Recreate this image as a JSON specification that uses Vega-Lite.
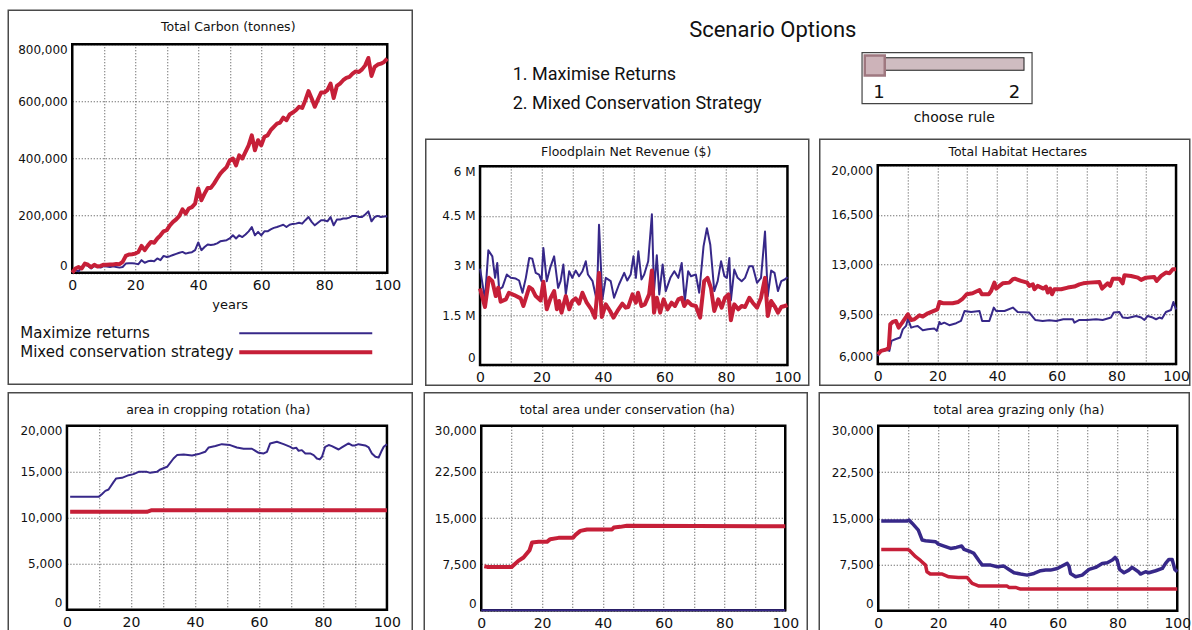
{
"$schema": "https://vega.github.io/schema/vega-lite/v6.json",
"padding": {"left": 7.25, "top": 9.25, "right": 0, "bottom": 0},
"background": "white",
"spacing": 5.5,
"datasets": {
"carbon": [
{"t":0,"R":0,"M":0},{"t":1,"R":9000,"M":15000},{"t":2,"R":5000,"M":20000},{"t":3,"R":20000,"M":15000},{"t":4,"R":29000,"M":32000},{"t":5,"R":24000,"M":28000},{"t":6,"R":15000,"M":20000},{"t":7,"R":24000,"M":28000},{"t":8,"R":20000,"M":22000},{"t":9,"R":18000,"M":24000},
{"t":10,"R":23000,"M":28000},{"t":11,"R":22000,"M":28000},{"t":12,"R":20000,"M":29000},{"t":13,"R":23000,"M":29000},{"t":14,"R":20000,"M":31000},{"t":15,"R":18000,"M":30000},{"t":16,"R":20000,"M":38000},{"t":17,"R":32000,"M":59000},{"t":18,"R":33000,"M":64000},{"t":19,"R":33000,"M":65000},
{"t":20,"R":32000,"M":67000},{"t":21,"R":30000,"M":73000},{"t":22,"R":44000,"M":94000},{"t":23,"R":35000,"M":79000},{"t":24,"R":40000,"M":95000},{"t":25,"R":42000,"M":108000},{"t":26,"R":40000,"M":105000},{"t":27,"R":50000,"M":120000},{"t":28,"R":44000,"M":131000},{"t":29,"R":59000,"M":145000},
{"t":30,"R":55000,"M":149000},{"t":31,"R":58000,"M":166000},{"t":32,"R":62000,"M":178000},{"t":33,"R":66000,"M":187000},{"t":34,"R":70000,"M":199000},{"t":35,"R":73000,"M":222000},{"t":36,"R":67000,"M":207000},{"t":37,"R":70000,"M":225000},{"t":38,"R":72000,"M":230000},{"t":39,"R":79000,"M":242000},
{"t":40,"R":106000,"M":295000},{"t":41,"R":79000,"M":254000},{"t":42,"R":90000,"M":277000},{"t":43,"R":99000,"M":297000},{"t":44,"R":97000,"M":297000},{"t":45,"R":99000,"M":312000},{"t":46,"R":103000,"M":330000},{"t":47,"R":110000,"M":347000},{"t":48,"R":112000,"M":359000},{"t":49,"R":114000,"M":370000},
{"t":50,"R":120000,"M":394000},{"t":51,"R":131000,"M":400000},{"t":52,"R":120000,"M":376000},{"t":53,"R":131000,"M":411000},{"t":54,"R":125000,"M":400000},{"t":55,"R":134000,"M":423000},{"t":56,"R":145000,"M":446000},{"t":57,"R":160000,"M":481000},{"t":58,"R":131000,"M":429000},{"t":59,"R":143000,"M":464000},
{"t":60,"R":131000,"M":446000},{"t":61,"R":145000,"M":476000},{"t":62,"R":145000,"M":481000},{"t":63,"R":152000,"M":499000},{"t":64,"R":157000,"M":511000},{"t":65,"R":160000,"M":522000},{"t":66,"R":164000,"M":526000},{"t":67,"R":168000,"M":543000},{"t":68,"R":160000,"M":534000},{"t":69,"R":168000,"M":554000},
{"t":70,"R":171000,"M":561000},{"t":71,"R":172000,"M":569000},{"t":72,"R":175000,"M":581000},{"t":73,"R":172000,"M":577000},{"t":74,"R":184000,"M":604000},{"t":75,"R":195000,"M":636000},{"t":76,"R":178000,"M":610000},{"t":77,"R":166000,"M":581000},{"t":78,"R":175000,"M":607000},{"t":79,"R":184000,"M":631000},
{"t":80,"R":184000,"M":631000},{"t":81,"R":180000,"M":639000},{"t":82,"R":195000,"M":662000},{"t":83,"R":166000,"M":612000},{"t":84,"R":186000,"M":654000},{"t":85,"R":186000,"M":662000},{"t":86,"R":190000,"M":674000},{"t":87,"R":190000,"M":682000},{"t":88,"R":193000,"M":686000},{"t":89,"R":199000,"M":697000},
{"t":90,"R":199000,"M":705000},{"t":91,"R":195000,"M":703000},{"t":92,"R":195000,"M":712000},{"t":93,"R":204000,"M":726000},{"t":94,"R":215000,"M":752000},{"t":95,"R":180000,"M":689000},{"t":96,"R":195000,"M":721000},{"t":97,"R":199000,"M":729000},{"t":98,"R":195000,"M":732000},{"t":99,"R":197000,"M":738000},
{"t":100,"R":198000,"M":750000}
],
"flood": [
{"s":"R","t":0,"v":2.91},{"s":"R","t":1.6,"v":1.98},{"s":"R","t":2.7,"v":3.46},{"s":"R","t":4.0,"v":3.28},{"s":"R","t":4.9,"v":2.63},{"s":"R","t":5.6,"v":3.08},{"s":"R","t":6.2,"v":2.28},{"s":"R","t":7.3,"v":2.35},{"s":"R","t":8.7,"v":2.73},{"s":"R","t":10,"v":2.63},
{"s":"R","t":11.6,"v":2.61},{"s":"R","t":12.7,"v":2.55},{"s":"R","t":13.8,"v":2.18},{"s":"R","t":14.9,"v":2.63},{"s":"R","t":16,"v":3.23},{"s":"R","t":17,"v":3.21},{"s":"R","t":18.1,"v":2.78},{"s":"R","t":19.2,"v":2.73},{"s":"R","t":20,"v":2.53},{"s":"R","t":20.6,"v":3.53},
{"s":"R","t":21.7,"v":2.53},{"s":"R","t":22.8,"v":2.93},{"s":"R","t":24.1,"v":3.28},{"s":"R","t":25.4,"v":2.33},{"s":"R","t":26.2,"v":2.53},{"s":"R","t":27.1,"v":3.03},{"s":"R","t":27.9,"v":2.13},{"s":"R","t":29,"v":2.83},{"s":"R","t":30,"v":2.63},{"s":"R","t":31.1,"v":2.85},
{"s":"R","t":32.2,"v":2.68},{"s":"R","t":33.3,"v":2.83},{"s":"R","t":34.4,"v":3.13},{"s":"R","t":35.1,"v":2.73},{"s":"R","t":36.6,"v":2.53},{"s":"R","t":38,"v":1.93},{"s":"R","t":38.7,"v":4.23},{"s":"R","t":39.8,"v":1.98},{"s":"R","t":40.9,"v":2.63},{"s":"R","t":42.5,"v":2.53},
{"s":"R","t":43.6,"v":2.03},{"s":"R","t":45.2,"v":2.43},{"s":"R","t":46.9,"v":2.78},{"s":"R","t":47.9,"v":2.55},{"s":"R","t":49,"v":2.73},{"s":"R","t":49.9,"v":3.28},{"s":"R","t":50.7,"v":2.63},{"s":"R","t":51.5,"v":3.43},{"s":"R","t":52.5,"v":2.58},{"s":"R","t":53.4,"v":2.73},
{"s":"R","t":54.7,"v":3.13},{"s":"R","t":55.9,"v":4.55},{"s":"R","t":56.6,"v":2.23},{"s":"R","t":57.5,"v":3.31},{"s":"R","t":58.3,"v":2.13},{"s":"R","t":59.4,"v":3.03},{"s":"R","t":60.4,"v":2.23},{"s":"R","t":61.9,"v":2.63},{"s":"R","t":63.2,"v":2.83},{"s":"R","t":64.5,"v":2.63},
{"s":"R","t":65.6,"v":3.08},{"s":"R","t":66.6,"v":1.93},{"s":"R","t":67.7,"v":2.83},{"s":"R","t":68.6,"v":2.68},{"s":"R","t":70.2,"v":2.73},{"s":"R","t":71.3,"v":2.18},{"s":"R","t":72.7,"v":3.58},{"s":"R","t":73.8,"v":4.13},{"s":"R","t":74.9,"v":3.63},{"s":"R","t":76.2,"v":2.23},
{"s":"R","t":77.3,"v":2.53},{"s":"R","t":78.4,"v":3.13},{"s":"R","t":79.5,"v":2.68},{"s":"R","t":80.3,"v":2.63},{"s":"R","t":81.1,"v":3.23},{"s":"R","t":81.6,"v":1.95},{"s":"R","t":82.7,"v":2.88},{"s":"R","t":83.8,"v":2.63},{"s":"R","t":85.1,"v":2.53},{"s":"R","t":86.2,"v":2.63},
{"s":"R","t":87.6,"v":2.98},{"s":"R","t":88.7,"v":2.98},{"s":"R","t":90.1,"v":2.48},{"s":"R","t":91.4,"v":2.63},{"s":"R","t":92.7,"v":4.03},{"s":"R","t":93.6,"v":2.08},{"s":"R","t":94.7,"v":2.85},{"s":"R","t":95.8,"v":2.78},{"s":"R","t":96.9,"v":2.23},{"s":"R","t":98,"v":2.53},
{"s":"R","t":99.1,"v":2.58},{"s":"R","t":100,"v":2.65},
{"s":"M","t":0,"v":2.31},{"s":"M","t":1.6,"v":1.75},{"s":"M","t":2.9,"v":2.63},{"s":"M","t":4,"v":2.53},{"s":"M","t":5.1,"v":2.08},{"s":"M","t":5.9,"v":2.33},{"s":"M","t":6.7,"v":1.91},{"s":"M","t":8.4,"v":1.98},{"s":"M","t":9.4,"v":2.18},{"s":"M","t":11.1,"v":2.11},
{"s":"M","t":13.2,"v":2.01},{"s":"M","t":14.1,"v":1.78},{"s":"M","t":16,"v":2.35},{"s":"M","t":17,"v":2.28},{"s":"M","t":18.1,"v":2.08},{"s":"M","t":19.7,"v":1.95},{"s":"M","t":20.6,"v":2.51},{"s":"M","t":21.7,"v":1.68},{"s":"M","t":23,"v":2.03},{"s":"M","t":24.1,"v":2.23},
{"s":"M","t":25,"v":1.68},{"s":"M","t":25.7,"v":1.93},{"s":"M","t":26.5,"v":1.58},{"s":"M","t":27.9,"v":2.08},{"s":"M","t":29,"v":1.68},{"s":"M","t":30,"v":1.93},{"s":"M","t":31.1,"v":2.01},{"s":"M","t":32.2,"v":1.85},{"s":"M","t":33.3,"v":2.18},{"s":"M","t":34.7,"v":1.88},
{"s":"M","t":36.2,"v":1.68},{"s":"M","t":37.4,"v":1.43},{"s":"M","t":38.7,"v":2.78},{"s":"M","t":39.6,"v":1.45},{"s":"M","t":40.9,"v":1.83},{"s":"M","t":42.3,"v":1.63},{"s":"M","t":43.4,"v":1.43},{"s":"M","t":44.7,"v":1.63},{"s":"M","t":46.3,"v":1.85},{"s":"M","t":47.4,"v":1.73},
{"s":"M","t":48.2,"v":1.75},{"s":"M","t":49.6,"v":2.13},{"s":"M","t":50.7,"v":1.88},{"s":"M","t":51.4,"v":2.18},{"s":"M","t":52.5,"v":1.78},{"s":"M","t":53.6,"v":1.83},{"s":"M","t":55,"v":2.13},{"s":"M","t":55.9,"v":2.85},{"s":"M","t":56.6,"v":1.58},{"s":"M","t":57.5,"v":2.03},
{"s":"M","t":58.6,"v":1.58},{"s":"M","t":59.7,"v":1.98},{"s":"M","t":61,"v":1.68},{"s":"M","t":62.3,"v":1.88},{"s":"M","t":63.4,"v":1.78},{"s":"M","t":64.5,"v":1.98},{"s":"M","t":65.6,"v":2.03},{"s":"M","t":66.4,"v":1.78},{"s":"M","t":67.5,"v":1.93},{"s":"M","t":68.8,"v":1.81},
{"s":"M","t":70.2,"v":1.78},{"s":"M","t":71.6,"v":1.43},{"s":"M","t":72.9,"v":2.53},{"s":"M","t":74,"v":2.63},{"s":"M","t":75.1,"v":2.33},{"s":"M","t":76.2,"v":1.63},{"s":"M","t":77.5,"v":1.98},{"s":"M","t":78.6,"v":1.73},{"s":"M","t":79.7,"v":2.03},{"s":"M","t":80.8,"v":2.13},
{"s":"M","t":81.6,"v":1.35},{"s":"M","t":82.7,"v":1.83},{"s":"M","t":84,"v":1.68},{"s":"M","t":85.1,"v":1.78},{"s":"M","t":86.2,"v":1.75},{"s":"M","t":87.6,"v":2.03},{"s":"M","t":88.7,"v":1.88},{"s":"M","t":90.1,"v":1.73},{"s":"M","t":91.4,"v":2.03},{"s":"M","t":92.7,"v":2.63},
{"s":"M","t":93.6,"v":1.48},{"s":"M","t":94.7,"v":1.93},{"s":"M","t":95.8,"v":1.78},{"s":"M","t":96.9,"v":1.58},{"s":"M","t":98,"v":1.75},{"s":"M","t":99.1,"v":1.78},{"s":"M","t":100,"v":1.81}
],
"habitat": [
{"s":"R","t":0,"v":6560},{"s":"R","t":1.1,"v":6920},{"s":"R","t":3,"v":6990},{"s":"R","t":3.9,"v":6920},{"s":"R","t":4.6,"v":7620},{"s":"R","t":5.9,"v":7740},{"s":"R","t":7.5,"v":7860},{"s":"R","t":8.4,"v":8440},{"s":"R","t":9.5,"v":8680},{"s":"R","t":10.1,"v":9190},
{"s":"R","t":11.2,"v":8560},{"s":"R","t":12.3,"v":8630},{"s":"R","t":13.4,"v":8680},{"s":"R","t":15.1,"v":8370},{"s":"R","t":16.8,"v":8440},{"s":"R","t":19,"v":8490},{"s":"R","t":19.8,"v":8330},{"s":"R","t":20.7,"v":8960},{"s":"R","t":21.2,"v":8800},{"s":"R","t":22.3,"v":8910},
{"s":"R","t":24,"v":8730},{"s":"R","t":26.3,"v":8870},{"s":"R","t":27.9,"v":9030},{"s":"R","t":29.1,"v":9730},{"s":"R","t":31.3,"v":9660},{"s":"R","t":34.1,"v":9730},{"s":"R","t":35,"v":9030},{"s":"R","t":37.4,"v":9030},{"s":"R","t":38.9,"v":9970},{"s":"R","t":39.7,"v":9730},
{"s":"R","t":42.5,"v":9730},{"s":"R","t":45.3,"v":9970},{"s":"R","t":46.9,"v":9660},{"s":"R","t":50.8,"v":9620},{"s":"R","t":52.8,"v":9100},{"s":"R","t":55.3,"v":9030},{"s":"R","t":57.5,"v":9080},{"s":"R","t":59.8,"v":9030},{"s":"R","t":62.2,"v":9150},{"s":"R","t":65.4,"v":9150},
{"s":"R","t":65.9,"v":8910},{"s":"R","t":67.6,"v":9100},{"s":"R","t":70.1,"v":9100},{"s":"R","t":73.2,"v":9150},{"s":"R","t":75.4,"v":9100},{"s":"R","t":78.2,"v":9270},{"s":"R","t":79.1,"v":9620},{"s":"R","t":81,"v":9660},{"s":"R","t":82.1,"v":9270},{"s":"R","t":83.8,"v":9240},
{"s":"R","t":86.6,"v":9380},{"s":"R","t":88.3,"v":9270},{"s":"R","t":89.4,"v":9100},{"s":"R","t":90.5,"v":9380},{"s":"R","t":92.2,"v":9270},{"s":"R","t":93.3,"v":9150},{"s":"R","t":94.4,"v":9270},{"s":"R","t":95.3,"v":9200},{"s":"R","t":96.6,"v":9660},{"s":"R","t":98.3,"v":9800},
{"s":"R","t":99.1,"v":10370},{"s":"R","t":100,"v":9850},
{"s":"M","t":0,"v":6680},{"s":"M","t":1.1,"v":6920},{"s":"M","t":3,"v":7030},{"s":"M","t":3.7,"v":7150},{"s":"M","t":4.2,"v":8800},{"s":"M","t":5,"v":8960},{"s":"M","t":6.1,"v":9030},{"s":"M","t":7,"v":8560},{"s":"M","t":8.2,"v":8910},{"s":"M","t":10.1,"v":9500},
{"s":"M","t":11.2,"v":9100},{"s":"M","t":12.3,"v":9150},{"s":"M","t":14,"v":9430},{"s":"M","t":15.1,"v":9340},{"s":"M","t":16.8,"v":9570},{"s":"M","t":20,"v":9850},{"s":"M","t":20.7,"v":10370},{"s":"M","t":21.8,"v":10280},{"s":"M","t":25.1,"v":10280},{"s":"M","t":27,"v":10370},
{"s":"M","t":28.3,"v":10560},{"s":"M","t":29.8,"v":10910},{"s":"M","t":31.8,"v":10980},{"s":"M","t":34.1,"v":11210},{"s":"M","t":34.9,"v":10910},{"s":"M","t":37.2,"v":10910},{"s":"M","t":38,"v":11140},{"s":"M","t":39.1,"v":11730},{"s":"M","t":39.7,"v":11310},{"s":"M","t":40.8,"v":11500},
{"s":"M","t":41.9,"v":11680},{"s":"M","t":44.1,"v":11730},{"s":"M","t":45.3,"v":11970},{"s":"M","t":46,"v":12010},{"s":"M","t":48,"v":11850},{"s":"M","t":50.1,"v":11730},{"s":"M","t":50.8,"v":11500},{"s":"M","t":52,"v":11610},{"s":"M","t":52.5,"v":11260},{"s":"M","t":53.6,"v":11500},
{"s":"M","t":55.5,"v":11310},{"s":"M","t":56.4,"v":11450},{"s":"M","t":57,"v":11030},{"s":"M","t":57.8,"v":11310},{"s":"M","t":58.4,"v":10910},{"s":"M","t":59.2,"v":11260},{"s":"M","t":61.5,"v":11260},{"s":"M","t":63.7,"v":11380},{"s":"M","t":65.9,"v":11450},{"s":"M","t":67.6,"v":11610},
{"s":"M","t":68.9,"v":11680},{"s":"M","t":70.9,"v":11730},{"s":"M","t":74.3,"v":11780},{"s":"M","t":75.2,"v":11310},{"s":"M","t":77.1,"v":11680},{"s":"M","t":77.9,"v":11500},{"s":"M","t":78.8,"v":12010},{"s":"M","t":81,"v":12010},{"s":"M","t":82.1,"v":11680},{"s":"M","t":82.7,"v":12250},
{"s":"M","t":84.9,"v":12200},{"s":"M","t":87.2,"v":12080},{"s":"M","t":88.3,"v":11920},{"s":"M","t":89.9,"v":12080},{"s":"M","t":92.7,"v":12130},{"s":"M","t":93.5,"v":11850},{"s":"M","t":95,"v":12200},{"s":"M","t":96.6,"v":12440},{"s":"M","t":97.8,"v":12390},{"s":"M","t":98.9,"v":12670},
{"s":"M","t":100,"v":12670}
],
"crop": [
{"s":"R","t":1,"v":12270},{"s":"R","t":9.9,"v":12270},{"s":"R","t":10.9,"v":12560},{"s":"R","t":12,"v":12920},{"s":"R","t":13,"v":13070},{"s":"R","t":14.6,"v":13900},{"s":"R","t":15.4,"v":14270},{"s":"R","t":17.2,"v":14340},{"s":"R","t":19.3,"v":14630},{"s":"R","t":20.8,"v":14740},
{"s":"R","t":22.4,"v":14990},{"s":"R","t":25,"v":14990},{"s":"R","t":26,"v":14880},{"s":"R","t":28.1,"v":14990},{"s":"R","t":29.2,"v":15250},{"s":"R","t":31.3,"v":15540},{"s":"R","t":33.3,"v":16440},{"s":"R","t":34.4,"v":16810},{"s":"R","t":36.5,"v":16880},{"s":"R","t":39.1,"v":16770},
{"s":"R","t":41.1,"v":16920},{"s":"R","t":43.2,"v":17170},{"s":"R","t":44.3,"v":17640},{"s":"R","t":46.4,"v":17790},{"s":"R","t":48.4,"v":18000},{"s":"R","t":51,"v":17900},{"s":"R","t":53.1,"v":17640},{"s":"R","t":55.2,"v":17500},{"s":"R","t":57.8,"v":17500},{"s":"R","t":59.9,"v":17060},
{"s":"R","t":61.5,"v":16990},{"s":"R","t":62.5,"v":17170},{"s":"R","t":63.5,"v":18080},{"s":"R","t":65.6,"v":18260},{"s":"R","t":67.7,"v":18000},{"s":"R","t":69.8,"v":17710},{"s":"R","t":70.6,"v":17530},{"s":"R","t":71.7,"v":17600},{"s":"R","t":72.4,"v":17280},{"s":"R","t":73.4,"v":17350},
{"s":"R","t":74.5,"v":16990},{"s":"R","t":76,"v":16990},{"s":"R","t":77.1,"v":16810},{"s":"R","t":78.1,"v":16440},{"s":"R","t":79,"v":16340},{"s":"R","t":79.7,"v":16630},{"s":"R","t":80.7,"v":17710},{"s":"R","t":81.8,"v":17900},{"s":"R","t":82.8,"v":17790},{"s":"R","t":84.9,"v":17420},
{"s":"R","t":85.9,"v":17640},{"s":"R","t":88,"v":18080},{"s":"R","t":89.1,"v":17860},{"s":"R","t":90.1,"v":17860},{"s":"R","t":91.1,"v":18000},{"s":"R","t":93.2,"v":17860},{"s":"R","t":94.3,"v":17640},{"s":"R","t":95.3,"v":16990},{"s":"R","t":96.4,"v":16630},{"s":"R","t":97.4,"v":16550},
{"s":"R","t":98.2,"v":17170},{"s":"R","t":99,"v":17710},{"s":"R","t":100,"v":18000},
{"s":"M","t":1,"v":10640},{"s":"M","t":25,"v":10640},{"s":"M","t":26.5,"v":10820},{"s":"M","t":100,"v":10820}
],
"cons": [
{"s":"R","t":0,"v":0},{"s":"R","t":100,"v":0},
{"s":"M","t":1,"v":7150},{"s":"M","t":2,"v":7050},{"s":"M","t":10,"v":7050},{"s":"M","t":12.2,"v":8030},{"s":"M","t":13.9,"v":8570},{"s":"M","t":15.9,"v":9770},{"s":"M","t":16.7,"v":11010},{"s":"M","t":18.9,"v":11120},{"s":"M","t":21.6,"v":11120},{"s":"M","t":22.7,"v":11560},
{"s":"M","t":25.4,"v":11770},{"s":"M","t":30.2,"v":11770},{"s":"M","t":30.9,"v":12210},{"s":"M","t":32.6,"v":12910},{"s":"M","t":34.8,"v":13130},{"s":"M","t":43,"v":13130},{"s":"M","t":43.6,"v":13450},{"s":"M","t":45.7,"v":13560},{"s":"M","t":47.9,"v":13730},{"s":"M","t":100,"v":13670}
],
"graze": [
{"s":"R","t":1,"v":14540},{"s":"R","t":9.7,"v":14540},{"s":"R","t":10.3,"v":14700},{"s":"R","t":11.4,"v":14160},{"s":"R","t":13.4,"v":13080},{"s":"R","t":14.7,"v":11460},{"s":"R","t":15.8,"v":11350},{"s":"R","t":19.2,"v":11190},{"s":"R","t":20.1,"v":10810},{"s":"R","t":22,"v":10490},
{"s":"R","t":24.2,"v":10110},{"s":"R","t":26.1,"v":10270},{"s":"R","t":27.9,"v":10490},{"s":"R","t":28.7,"v":9950},{"s":"R","t":30.9,"v":9570},{"s":"R","t":32,"v":9300},{"s":"R","t":33.7,"v":8110},{"s":"R","t":34.8,"v":7400},{"s":"R","t":37.6,"v":7400},{"s":"R","t":39.8,"v":7130},
{"s":"R","t":42,"v":7240},{"s":"R","t":43.7,"v":6700},{"s":"R","t":45.4,"v":6160},{"s":"R","t":47.6,"v":5950},{"s":"R","t":49.8,"v":5780},{"s":"R","t":52.1,"v":6050},{"s":"R","t":54.3,"v":6490},{"s":"R","t":56,"v":6590},{"s":"R","t":57.6,"v":6590},{"s":"R","t":59.9,"v":6860},
{"s":"R","t":61,"v":7130},{"s":"R","t":63.2,"v":7680},{"s":"R","t":63.8,"v":7240},{"s":"R","t":64.3,"v":6050},{"s":"R","t":66,"v":5510},{"s":"R","t":68.2,"v":5780},{"s":"R","t":70.5,"v":6700},{"s":"R","t":72.7,"v":7030},{"s":"R","t":74.9,"v":7680},{"s":"R","t":76.6,"v":7780},
{"s":"R","t":78.3,"v":8220},{"s":"R","t":79.2,"v":8650},{"s":"R","t":79.9,"v":8220},{"s":"R","t":80.7,"v":6700},{"s":"R","t":82.2,"v":6160},{"s":"R","t":83.8,"v":6590},{"s":"R","t":84.9,"v":7030},{"s":"R","t":87,"v":6320},{"s":"R","t":87.7,"v":5950},{"s":"R","t":89.4,"v":6320},
{"s":"R","t":90.5,"v":6160},{"s":"R","t":92.8,"v":6490},{"s":"R","t":95,"v":6860},{"s":"R","t":96.1,"v":7680},{"s":"R","t":97.2,"v":8320},{"s":"R","t":98.3,"v":8320},{"s":"R","t":99.2,"v":6700},{"s":"R","t":100,"v":6320},
{"s":"M","t":1,"v":9950},{"s":"M","t":9.7,"v":9950},{"s":"M","t":10.3,"v":9840},{"s":"M","t":12.5,"v":8760},{"s":"M","t":14.2,"v":8110},{"s":"M","t":15.8,"v":7400},{"s":"M","t":16.3,"v":6320},{"s":"M","t":17.4,"v":5950},{"s":"M","t":21.4,"v":5950},{"s":"M","t":23.6,"v":5510},
{"s":"M","t":26.8,"v":5400},{"s":"M","t":29.7,"v":5400},{"s":"M","t":31.4,"v":4430},{"s":"M","t":33.7,"v":4000},{"s":"M","t":35.9,"v":4000},{"s":"M","t":43.1,"v":4000},{"s":"M","t":43.7,"v":3780},{"s":"M","t":45.9,"v":3780},{"s":"M","t":47.6,"v":3510},{"s":"M","t":100,"v":3510}
]
},
"vconcat": [
{"hconcat": [
 {"width": 404, "height": 374,
  "title": {"text": "Total Carbon (tonnes)", "offset": -23, "dx": 18},
  "resolve": {"axis": {"x": "independent"}},
  "layer": [
   {"data": {"values": [{}]}, "mark": {"type": "rect", "filled": false, "color": "#000000", "strokeWidth": 2.5},
    "encoding": {
     "x": {"datum": 0, "type": "quantitative", "axis": {"orient": "top", "values": [10,20,30,40,50,60,70,80,90], "labels": false, "grid": true, "offset": 0, "title": null}},
     "x2": {"datum": 100},
     "y": {"datum": 0, "type": "quantitative", "axis": {"values": [0, 200000, 400000, 600000, 800000], "format": ",d", "offset": -64, "title": null}},
     "y2": {"datum": 800000}}},
   {"data": {"name": "carbon"}, "transform": [{"fold": ["R", "M"], "as": ["s", "v"]}],
    "mark": {"type": "line"},
    "encoding": {
     "x": {"field": "t", "type": "quantitative", "scale": {"domain": [0, 100], "range": [64, 379], "nice": false, "zero": false},
       "axis": {"orient": "bottom", "grid": false, "values": [0,20,40,60,80,100], "offset": -111.5, "title": "years", "titleFontSize": 13, "titleFontWeight": "normal", "titlePadding": 6, "titleColor": "#111111"}},
     "y": {"field": "v", "type": "quantitative", "scale": {"domain": [0, 800000], "range": [262.5, 34], "nice": false, "zero": false},
       "axis": {"values": [0, 200000, 400000, 600000, 800000], "format": ",d", "offset": -64, "title": null}},
     "color": {"field": "s", "type": "nominal", "scale": {"domain": ["R", "M"], "range": ["#372889", "#c61f38"]},
       "legend": {"orient": "none", "legendX": 12, "legendY": 315.5, "title": null, "symbolType": "M211.5,0H344.5", "symbolSize": 4, "symbolOffset": 0, "labelOffset": -15, "rowPadding": 3, "labelFontSize": 15, "labelFont": "DejaVu Sans", "labelColor": "#111111", "labelLimit": 400, "padding": 0, "labelExpr": "datum.value === 'R' ? 'Maximize returns' : 'Mixed conservation strategy'"}},
     "strokeWidth": {"field": "s", "type": "nominal", "scale": {"domain": ["R", "M"], "range": [2, 4]},
       "legend": {"orient": "none", "legendX": 12, "legendY": 315.5, "title": null, "symbolType": "M211.5,0H344.5", "symbolSize": 4, "symbolOffset": 0, "labelOffset": -15, "rowPadding": 3, "labelFontSize": 15, "labelFont": "DejaVu Sans", "labelColor": "#111111", "labelLimit": 400, "padding": 0, "labelExpr": "datum.value === 'R' ? 'Maximize returns' : 'Mixed conservation strategy'"}}
    }}
  ]},
 {"vconcat": [
   {"hconcat": [
     {"width": 433, "height": 128, "view": {"stroke": null},
      "title": {"text": "Scenario Options", "font": "Roboto", "fontSize": 22, "offset": -32, "dx": 130.5},
      "data": {"values": [{"n": 1, "label": "1. Maximise Returns"}, {"n": 2, "label": "2. Mixed Conservation Strategy"}]},
      "mark": {"type": "text", "align": "left", "baseline": "middle", "font": "Roboto", "fontSize": 18, "dx": -129.5, "color": "#111111"},
      "encoding": {"y": {"field": "n", "type": "ordinal", "scale": {"type": "point", "range": [65, 94], "padding": 0}, "axis": null}, "text": {"field": "label"}}},
     {"vconcat": [
       {"width": 170, "height": 42, "view": {"stroke": null}, "data": {"values": []}, "mark": "point"},
       {"width": 170, "height": 51, "view": {"stroke": "#444444", "strokeWidth": 1.2},
        "data": {"values": [{"rule": 1}]},
        "layer": [
         {"mark": {"type": "rule", "strokeWidth": 13.5, "color": "#1a1a1a", "strokeCap": "square", "yOffset": -13.8},
          "encoding": {"x": {"datum": 1, "type": "quantitative", "axis": {"values": [1, 2], "format": "d", "grid": false, "labelFlush": true, "labelFlushOffset": 2, "labelFontSize": 18, "labelPadding": 2, "offset": -22, "title": "choose rule", "titleFontSize": 14, "titleFontWeight": "normal", "titlePadding": 9, "titleX": 92, "titleColor": "#111111"}}, "x2": {"datum": 2}}},
         {"mark": {"type": "rule", "strokeWidth": 11.5, "color": "#cfbcc1", "strokeCap": "square", "yOffset": -13.8},
          "encoding": {"x": {"datum": 1, "type": "quantitative", "axis": {"values": [1, 2], "format": "d", "grid": false, "labelFlush": true, "labelFlushOffset": 2, "labelFontSize": 18, "labelPadding": 2, "offset": -22, "title": "choose rule", "titleFontSize": 14, "titleFontWeight": "normal", "titlePadding": 9, "titleX": 92, "titleColor": "#111111"}}, "x2": {"datum": 2}}},
         {"mark": {"type": "point", "shape": "square", "size": 400, "filled": true, "color": "#cdb3b9", "stroke": "#9f7880", "strokeWidth": 2.5, "opacity": 1, "yOffset": -12.2},
          "encoding": {"x": {"field": "rule", "type": "quantitative", "scale": {"domain": [1, 2], "range": [13, 156], "nice": false, "zero": false},
            "axis": {"values": [1, 2], "format": "d", "grid": false, "labelFlush": true, "labelFlushOffset": 2, "labelFontSize": 18, "labelPadding": 2, "offset": -22, "title": "choose rule", "titleFontSize": 14, "titleFontWeight": "normal", "titlePadding": 9, "titleX": 92, "titleColor": "#111111"}}}}
        ]}
     ], "spacing": 0, "bounds": "flush"}
   ], "spacing": 0},
   {"hconcat": [
     {"width": 383, "height": 246,
      "title": {"text": "Floodplain Net Revenue ($)", "offset": -19.5, "dx": 9},
      "resolve": {"axis": {"x": "independent"}},
      "layer": [
       {"data": {"values": [{}]}, "mark": {"type": "rect", "filled": false, "color": "#000000", "strokeWidth": 2.5},
        "encoding": {
         "x": {"datum": 0, "type": "quantitative", "axis": {"orient": "top", "values": [10,20,30,40,50,60,70,80,90], "labels": false, "grid": true, "offset": 0, "title": null}},
         "x2": {"datum": 100},
         "y": {"datum": 0, "type": "quantitative", "axis": {"values": [0, 1.5, 3, 4.5, 6], "labelExpr": "datum.value === 0 ? '0' : datum.value + ' M'", "offset": -54.3, "title": null}},
         "y2": {"datum": 6}}},
       {"data": {"name": "flood"}, "mark": {"type": "line"},
        "encoding": {
         "x": {"field": "t", "type": "quantitative", "scale": {"domain": [0, 100], "range": [54.3, 361.7], "nice": false, "zero": false},
           "axis": {"orient": "bottom", "grid": false, "values": [0,20,40,60,80,100], "offset": -20.3, "title": null}},
         "y": {"field": "v", "type": "quantitative", "scale": {"domain": [0, 6], "range": [225.7, 27], "nice": false, "zero": false},
           "axis": {"values": [0, 1.5, 3, 4.5, 6], "labelExpr": "datum.value === 0 ? '0' : datum.value + ' M'", "offset": -54.3, "title": null}},
         "color": {"field": "s", "type": "nominal", "scale": {"domain": ["R", "M"], "range": ["#372889", "#c61f38"]}, "legend": null},
         "strokeWidth": {"field": "s", "type": "nominal", "scale": {"domain": ["R", "M"], "range": [2, 4]}, "legend": null}
        }}
      ]},
     {"width": 370, "height": 246,
      "title": {"text": "Total Habitat Hectares", "offset": -19, "dx": 13},
      "resolve": {"axis": {"x": "independent"}},
      "layer": [
       {"data": {"values": [{}]}, "mark": {"type": "rect", "filled": false, "color": "#000000", "strokeWidth": 2.5},
        "encoding": {
         "x": {"datum": 0, "type": "quantitative", "axis": {"orient": "top", "values": [10,20,30,40,50,60,70,80,90], "labels": false, "grid": true, "offset": 0, "title": null}},
         "x2": {"datum": 100},
         "y": {"datum": 6000, "type": "quantitative", "axis": {"values": [6000, 9500, 13000, 16500, 20000], "format": ",d", "offset": -58, "title": null}},
         "y2": {"datum": 20000}}},
       {"data": {"name": "habitat"}, "mark": {"type": "line"},
        "encoding": {
         "x": {"field": "t", "type": "quantitative", "scale": {"domain": [0, 100], "range": [58, 356.3], "nice": false, "zero": false},
           "axis": {"orient": "bottom", "grid": false, "values": [0,20,40,60,80,100], "offset": -21.3, "title": null}},
         "y": {"field": "v", "type": "quantitative", "scale": {"domain": [6000, 20000], "range": [224.7, 26], "nice": false, "zero": false},
           "axis": {"values": [6000, 9500, 13000, 16500, 20000], "format": ",d", "offset": -58, "title": null}},
         "color": {"field": "s", "type": "nominal", "scale": {"domain": ["R", "M"], "range": ["#372889", "#c61f38"]}, "legend": null},
         "strokeWidth": {"field": "s", "type": "nominal", "scale": {"domain": ["R", "M"], "range": [2, 4]}, "legend": null}
        }}
      ]}
   ], "spacing": 11, "bounds": "flush"}
 ], "spacing": 0}
], "spacing": 11.5},
{"hconcat": [
 {"width": 404, "height": 239,
  "title": {"text": "area in cropping rotation (ha)", "offset": -24, "dx": 8},
  "resolve": {"axis": {"x": "independent"}},
  "layer": [
   {"data": {"values": [{}]}, "mark": {"type": "rect", "filled": false, "color": "#000000", "strokeWidth": 2.5},
    "encoding": {
     "x": {"datum": 0, "type": "quantitative", "axis": {"orient": "top", "values": [10,20,30,40,50,60,70,80,90], "labels": false, "grid": true, "offset": 0, "title": null}},
     "x2": {"datum": 100},
     "y": {"datum": 0, "type": "quantitative", "axis": {"values": [0, 5000, 10000, 15000, 20000], "format": ",d", "offset": -58.7, "title": null}},
     "y2": {"datum": 20000}}},
   {"data": {"name": "crop"}, "mark": {"type": "line"},
    "encoding": {
     "x": {"field": "t", "type": "quantitative", "scale": {"domain": [0, 100], "range": [58.7, 378.7], "nice": false, "zero": false},
       "axis": {"orient": "bottom", "grid": false, "values": [0,20,40,60,80,100], "offset": -22, "title": null}},
     "y": {"field": "v", "type": "quantitative", "scale": {"domain": [0, 20000], "range": [217, 33], "nice": false, "zero": false},
       "axis": {"values": [0, 5000, 10000, 15000, 20000], "format": ",d", "offset": -58.7, "title": null}},
     "color": {"field": "s", "type": "nominal", "scale": {"domain": ["R", "M"], "range": ["#372889", "#c61f38"]}, "legend": null},
     "strokeWidth": {"field": "s", "type": "nominal", "scale": {"domain": ["R", "M"], "range": [2, 4]}, "legend": null}
    }}
  ]},
 {"width": 383, "height": 239,
  "title": {"text": "total area under conservation (ha)", "offset": -24, "dx": 11.5},
  "resolve": {"axis": {"x": "independent"}},
  "layer": [
   {"data": {"values": [{}]}, "mark": {"type": "rect", "filled": false, "color": "#000000", "strokeWidth": 2.5},
    "encoding": {
     "x": {"datum": 0, "type": "quantitative", "axis": {"orient": "top", "values": [10,20,30,40,50,60,70,80,90], "labels": false, "grid": true, "offset": 0, "title": null}},
     "x2": {"datum": 100},
     "y": {"datum": 0, "type": "quantitative", "axis": {"values": [0, 7500, 15000, 22500, 30000], "format": ",d", "offset": -57, "title": null}},
     "y2": {"datum": 30000}}},
   {"data": {"name": "cons"}, "mark": {"type": "line"},
    "encoding": {
     "x": {"field": "t", "type": "quantitative", "scale": {"domain": [0, 100], "range": [57, 361], "nice": false, "zero": false},
       "axis": {"orient": "bottom", "grid": false, "values": [0,20,40,60,80,100], "offset": -21.5, "title": null}},
     "y": {"field": "v", "type": "quantitative", "scale": {"domain": [0, 30000], "range": [217.5, 33], "nice": false, "zero": false},
       "axis": {"values": [0, 7500, 15000, 22500, 30000], "format": ",d", "offset": -57, "title": null}},
     "color": {"field": "s", "type": "nominal", "scale": {"domain": ["R", "M"], "range": ["#372889", "#c61f38"]}, "legend": null},
     "strokeWidth": {"field": "s", "type": "nominal", "scale": {"domain": ["R", "M"], "range": [2, 4]}, "legend": null}
    }}
  ]},
 {"width": 370, "height": 239,
  "title": {"text": "total area grazing only (ha)", "offset": -24, "dx": 14.7},
  "resolve": {"axis": {"x": "independent"}},
  "layer": [
   {"data": {"values": [{}]}, "mark": {"type": "rect", "filled": false, "color": "#000000", "strokeWidth": 2.5},
    "encoding": {
     "x": {"datum": 0, "type": "quantitative", "axis": {"orient": "top", "values": [10,20,30,40,50,60,70,80,90], "labels": false, "grid": true, "offset": 0, "title": null}},
     "x2": {"datum": 100},
     "y": {"datum": 0, "type": "quantitative", "axis": {"values": [0, 7500, 15000, 22500, 30000], "format": ",d", "offset": -59, "title": null}},
     "y2": {"datum": 30000}}},
   {"data": {"name": "graze"}, "mark": {"type": "line", "strokeWidth": 3.5},
    "encoding": {
     "x": {"field": "t", "type": "quantitative", "scale": {"domain": [0, 100], "range": [59, 358], "nice": false, "zero": false},
       "axis": {"orient": "bottom", "grid": false, "values": [0,20,40,60,80,100], "offset": -21, "title": null}},
     "y": {"field": "v", "type": "quantitative", "scale": {"domain": [0, 30000], "range": [218, 33], "nice": false, "zero": false},
       "axis": {"values": [0, 7500, 15000, 22500, 30000], "format": ",d", "offset": -59, "title": null}},
     "color": {"field": "s", "type": "nominal", "scale": {"domain": ["R", "M"], "range": ["#372889", "#c61f38"]}, "legend": null}
    }}
  ]}
], "spacing": 12, "bounds": "flush"}
],
"config": {
 "view": {"stroke": "#4a4a4a", "strokeWidth": 1.5},
 "font": "DejaVu Sans",
 "axis": {"grid": true, "gridColor": "#444444", "gridDash": [1, 2], "gridWidth": 1, "ticks": false, "domain": false, "labelColor": "#111111", "labelFont": "DejaVu Sans"},
 "axisX": {"labelFontSize": 14, "labelPadding": 6, "labelFlush": false},
 "axisY": {"labelFontSize": 12, "labelPadding": 5, "labelFlush": true},
 "title": {"font": "DejaVu Sans", "fontSize": 12.5, "fontWeight": "normal", "color": "#111111"},
 "line": {"strokeJoin": "round"}
}
}
